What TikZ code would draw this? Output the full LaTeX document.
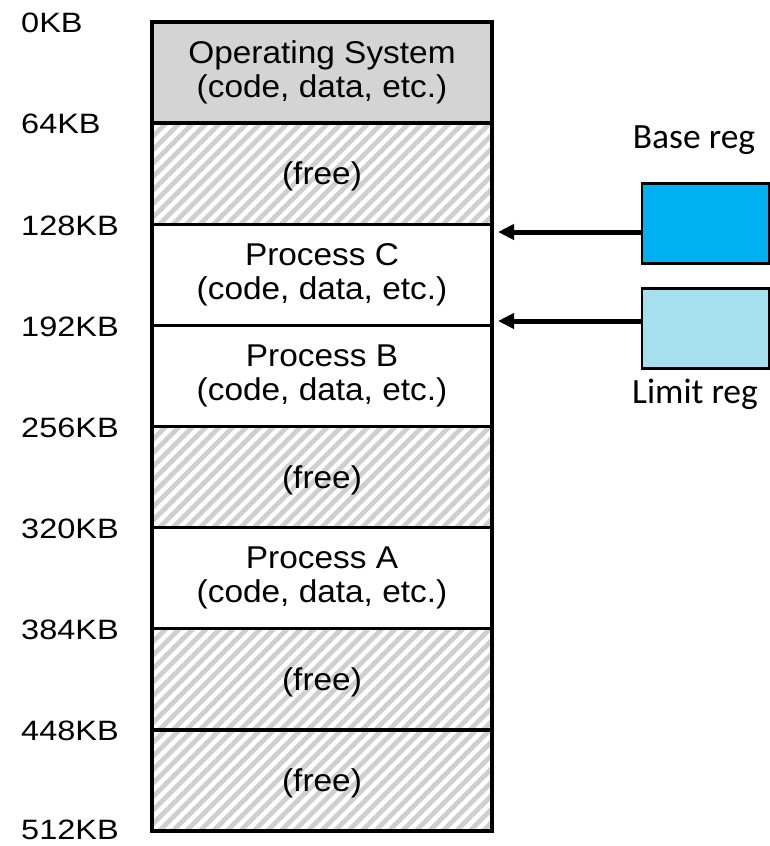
\documentclass[tikz,border=0pt]{standalone}
\usepackage{fontspec}
\setmainfont{Liberation Sans}[FakeStretch=1.06]
\newfontfamily\addrfont{Liberation Sans}[FakeStretch=1.16]
\newfontfamily\regfont{Carlito}
\usetikzlibrary{arrows.meta}

\definecolor{osgray}{HTML}{D4D4D4}
\definecolor{stripegray}{HTML}{CFCFCF}
\definecolor{basefill}{HTML}{00B0F0}
\definecolor{limitfill}{HTML}{A6E0EE}

\tikzset{
  memblock/.style={draw=black, line width=3.4pt, minimum width=340pt, minimum height=101pt,
    inner sep=0pt, align=center, font=\fontsize{31.5}{34}\selectfont,
    execute at begin node={\rule{0pt}{29pt}}},
  osblock/.style={memblock, fill=osgray},
  freeblock/.style={memblock,
    execute at begin node={\rule{0pt}{26pt}},
    path picture={
      \foreach \k in {0,...,36}
        \draw[line width=4.8pt, stripegray]
          ([xshift=\k*13.5pt-120pt, yshift=-6pt]path picture bounding box.south west) -- ++(140pt,140pt);
    }},
  addr/.style={anchor=west, inner sep=0pt, font=\addrfont\fontsize{28}{30}\selectfont},
  regbox/.style={draw=black, line width=2.4pt, minimum width=127pt, minimum height=80pt, inner sep=0pt},
  reglabel/.style={anchor=base, inner sep=0pt, font=\regfont\fontsize{35.5}{36}\selectfont},
  ptr/.style={line width=5pt, -{Triangle[length=16pt,width=15pt]}}
}

\begin{document}
\begin{tikzpicture}[x=1pt, y=-1pt]
  \useasboundingbox (0,0) rectangle (770,846);

  % memory map, 64KB per block
  \node[osblock]   (os)    at (322,72.6)  {Operating System\\(code, data, etc.)};
  \node[freeblock] (free1) at (322,173.7) {(free)};
  \node[memblock]  (pc)    at (322,274.8) {Process C\\(code, data, etc.)};
  \node[memblock]  (pb)    at (322,375.9) {Process B\\(code, data, etc.)};
  \node[freeblock] (free2) at (322,477.0) {(free)};
  \node[memblock]  (pa)    at (322,578.1) {Process A\\(code, data, etc.)};
  \node[freeblock] (free3) at (322,679.2) {(free)};
  \node[freeblock] (free4) at (322,780.3) {(free)};

  % address labels
  \node[addr] (a0)   at (21,23)  {0KB};
  \node[addr] (a64)  at (21,124) {64KB};
  \node[addr] (a128) at (21,226) {128KB};
  \node[addr] (a192) at (21,327) {192KB};
  \node[addr] (a256) at (21,428) {256KB};
  \node[addr] (a320) at (21,529) {320KB};
  \node[addr] (a384) at (21,630) {384KB};
  \node[addr] (a448) at (21,731) {448KB};
  \node[addr] (a512) at (21,830) {512KB};

  % registers
  \node[regbox, fill=basefill]  (base)  at (705.5,223.5) {};
  \node[regbox, fill=limitfill] (limit) at (705.5,328.5) {};
  \node[reglabel] (baselbl)  at (694,148) {Base reg};
  \node[reglabel] (limitlbl) at (695,403) {Limit reg};

  \coordinate (basetip)  at (498,232);
  \coordinate (limittip) at (498,321);
  \draw[ptr] (basetip -| base.west) -- (basetip);
  \draw[ptr] (limittip -| limit.west) -- (limittip);
\end{tikzpicture}
\end{document}
